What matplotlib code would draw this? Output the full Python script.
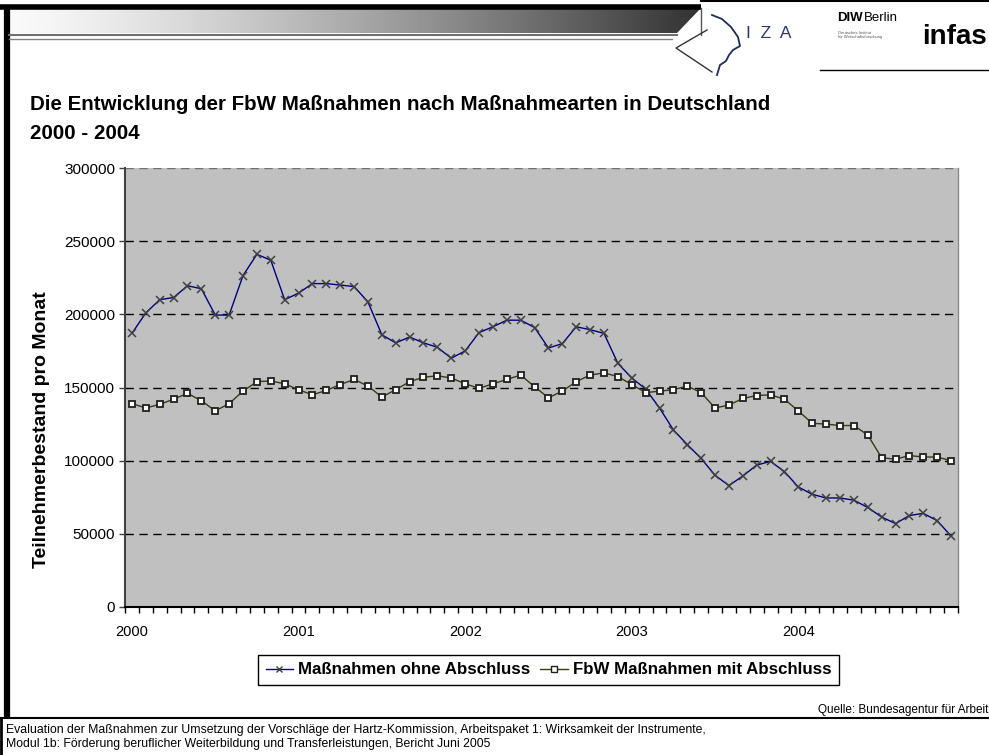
import numpy as np
import matplotlib
matplotlib.use("Agg")
import matplotlib.pyplot as plt
from matplotlib.lines import Line2D
from matplotlib.patches import Polygon

plt.rcParams['font.family'] = ['Liberation Sans', 'DejaVu Sans']

# monthly values 2000-01 .. 2004-12
ohne_abschluss = [187000, 201000, 210000, 211500, 219500, 217500, 199500, 199500, 226500, 241000,
                  237000, 210000, 214500, 221000, 221000, 220000, 219000, 208500, 186000, 180500,
                  184500, 180500, 177500, 170000, 175000, 187500, 191500, 196000, 196000, 191000,
                  177000, 180000, 191500, 189500, 187000, 166500, 156500, 149000, 136000, 121000,
                  111000, 101500, 90000, 83000, 89500, 97000, 99500, 92500, 82000, 77000,
                  74500, 74500, 73000, 68000, 61500, 57000, 62500, 64000, 59000, 48500]
mit_abschluss = [139000, 136000, 138500, 142000, 146000, 141000, 134000, 139000, 147500, 154000,
                 154500, 152500, 148500, 145000, 148000, 152000, 155500, 151000, 143500, 148500,
                 154000, 157000, 158000, 156500, 152500, 149500, 152500, 155500, 158500, 150500,
                 143000, 147500, 154000, 158500, 160000, 157500, 152000, 146500, 147500, 148500,
                 151000, 146500, 136000, 138000, 142500, 144500, 145000, 142000, 134000, 125500,
                 125000, 124000, 124000, 117500, 102000, 101000, 103500, 102500, 102500, 100000]
years = ["2000", "2001", "2002", "2003", "2004"]
y_ticks = [0, 50000, 100000, 150000, 200000, 250000, 300000]

W, H = 989, 755
fig = plt.figure(figsize=(W / 100, H / 100), dpi=100)

# background layer in pixel coords for the slide decoration
bg = fig.add_axes([0, 0, 1, 1], zorder=0)
bg.set_xlim(0, W)
bg.set_ylim(H, 0)
bg.axis("off")

# header gradient bar
t = np.linspace(0, 1, 400)
grad = (250 - 200 * t ** 1.3) / 255.0
img = bg.imshow(np.tile(grad, (2, 1)), cmap="gray", vmin=0, vmax=1, aspect="auto",
                extent=(8, 701, 33, 8), interpolation="bilinear")
clip = Polygon([(8, 8), (701, 8), (677, 33), (8, 33)], closed=True, transform=bg.transData)
img.set_clip_path(clip)
bg.plot([0, 701], [6.5, 6.5], color="black", lw=4, solid_capstyle="butt")
bg.plot([701, W], [1, 1], color="black", lw=1.5)
bg.plot([6.5, 6.5], [5, 718], color="black", lw=4.5, solid_capstyle="butt")
bg.plot([9, 677], [34.5, 34.5], color="#707070", lw=1.5)
bg.plot([9, 672], [38.5, 38.5], color="#808080", lw=1)
bg.plot([701, 701], [8, 35], color="#555555", lw=1)
bg.plot([707, 676, 712], [30, 48, 72], color="#333333", lw=1)
bg.plot([0, W], [717.5, 717.5], color="black", lw=1.5)
bg.plot([1, 1], [718, H], color="black", lw=2)

# logos
bg.plot([712, 722, 731, 738, 740, 733, 729, 726, 720, 717],
        [15, 19, 27, 37, 46, 50, 55, 61, 65, 75], color="#1c2c5c", lw=1.3)
bg.text(746, 33, "I  Z  A", fontsize=12.5, color="#27377a", va="center", ha="left")
bg.text(837, 18, "DIW", fontsize=9.5, fontweight="bold", va="center", ha="left")
bg.text(864, 18, "Berlin", fontsize=9.5, va="center", ha="left")
bg.text(838, 35, "Deutsches Institut\nfür Wirtschaftsforschung", fontsize=3, color="#555555",
        va="center", ha="left", linespacing=1.1)
bg.text(955, 37, "infas", fontsize=20, fontweight="bold", va="center", ha="center",
        family=["Liberation Sans Narrow", "Liberation Sans"])
bg.plot([820, W], [70, 70], color="black", lw=1)

# titles and notes
fig.text(30 / W, 1 - 110 / H, "Die Entwicklung der FbW Maßnahmen nach Maßnahmearten in Deutschland",
         fontsize=14.8, fontweight="bold", va="baseline")
fig.text(30 / W, 1 - 139 / H, "2000 - 2004", fontsize=14.8, fontweight="bold", va="baseline")
fig.text(42 / W, 1 - 430 / H, "Teilnehmerbestand pro Monat", fontsize=14, fontweight="bold",
         rotation=90, ha="center", va="center")
fig.text(988 / W, 1 - 713 / H, "Quelle: Bundesagentur für Arbeit", fontsize=8.5, ha="right", va="baseline")
fig.text(6 / W, 1 - 733 / H, "Evaluation der Maßnahmen zur Umsetzung der Vorschläge der Hartz-Kommission, "
         "Arbeitspaket 1: Wirksamkeit der Instrumente,", fontsize=8.8, va="baseline")
fig.text(6 / W, 1 - 747 / H, "Modul 1b: Förderung beruflicher Weiterbildung und Transferleistungen, "
         "Bericht Juni 2005", fontsize=8.8, va="baseline")

# main chart
ax = fig.add_axes([125 / W, 1 - 607 / H, 833 / W, 439 / H], zorder=2)
ax.set_facecolor("#c0c0c0")
x = np.arange(len(ohne_abschluss))

ax.plot(x, ohne_abschluss, color="#000080", lw=1, marker="x", ms=5.5, mew=1.1,
        mec="#404040", label="Maßnahmen ohne Abschluss", zorder=3)
ax.plot(x, mit_abschluss, color="#3a3a10", lw=1, marker="s", ms=4.8, mew=1.3,
        mfc="white", mec="#202020", label="FbW Maßnahmen mit Abschluss", zorder=4)

ax.set_xlim(-0.5, len(x) - 0.5)
ax.set_ylim(0, 300000)
ax.set_yticks(y_ticks)
ax.set_yticklabels([str(v) for v in y_ticks], fontsize=11)
for v in y_ticks[1:]:
    ax.axhline(v, color="black" if v < 300000 else "#707070", lw=1, dashes=(6, 4), zorder=1)

ax.set_xticks(np.arange(0, 60, 12))
ax.set_xticklabels(years, fontsize=10.5)
ax.set_xticks(np.arange(-0.5, 60, 1), minor=True)
ax.tick_params(axis="x", which="major", length=0, pad=13)
ax.tick_params(axis="x", which="minor", length=4, width=1, direction="out", color="black")
ax.tick_params(axis="y", length=4, width=1, direction="out", color="#404040", pad=3)

ax.spines["top"].set_visible(False)
ax.spines["left"].set_color("#404040")
ax.spines["left"].set_linewidth(1.5)
ax.spines["bottom"].set_color("black")
ax.spines["bottom"].set_linewidth(1.5)
ax.spines["right"].set_color("#8a8a8a")
ax.spines["right"].set_linewidth(1)

handles = [
    Line2D([], [], color="#000080", lw=1, marker="x", ms=5, mew=1, mec="#404040"),
    Line2D([], [], color="#3a3a10", lw=1, marker="s", ms=4.5, mew=1, mfc="white", mec="#202020"),
]
leg = fig.legend(handles, ["Maßnahmen ohne Abschluss", "FbW Maßnahmen mit Abschluss"],
                 loc="center", bbox_to_anchor=(548.5 / W, 1 - 670 / H), ncol=2,
                 prop={"weight": "bold", "size": 12.2}, handlelength=1.6, handletextpad=0.3,
                 columnspacing=0.6, borderpad=0.45, fancybox=False, framealpha=1)
leg.get_frame().set_edgecolor("black")
leg.get_frame().set_linewidth(1)

fig.savefig("out.png", dpi=100)
